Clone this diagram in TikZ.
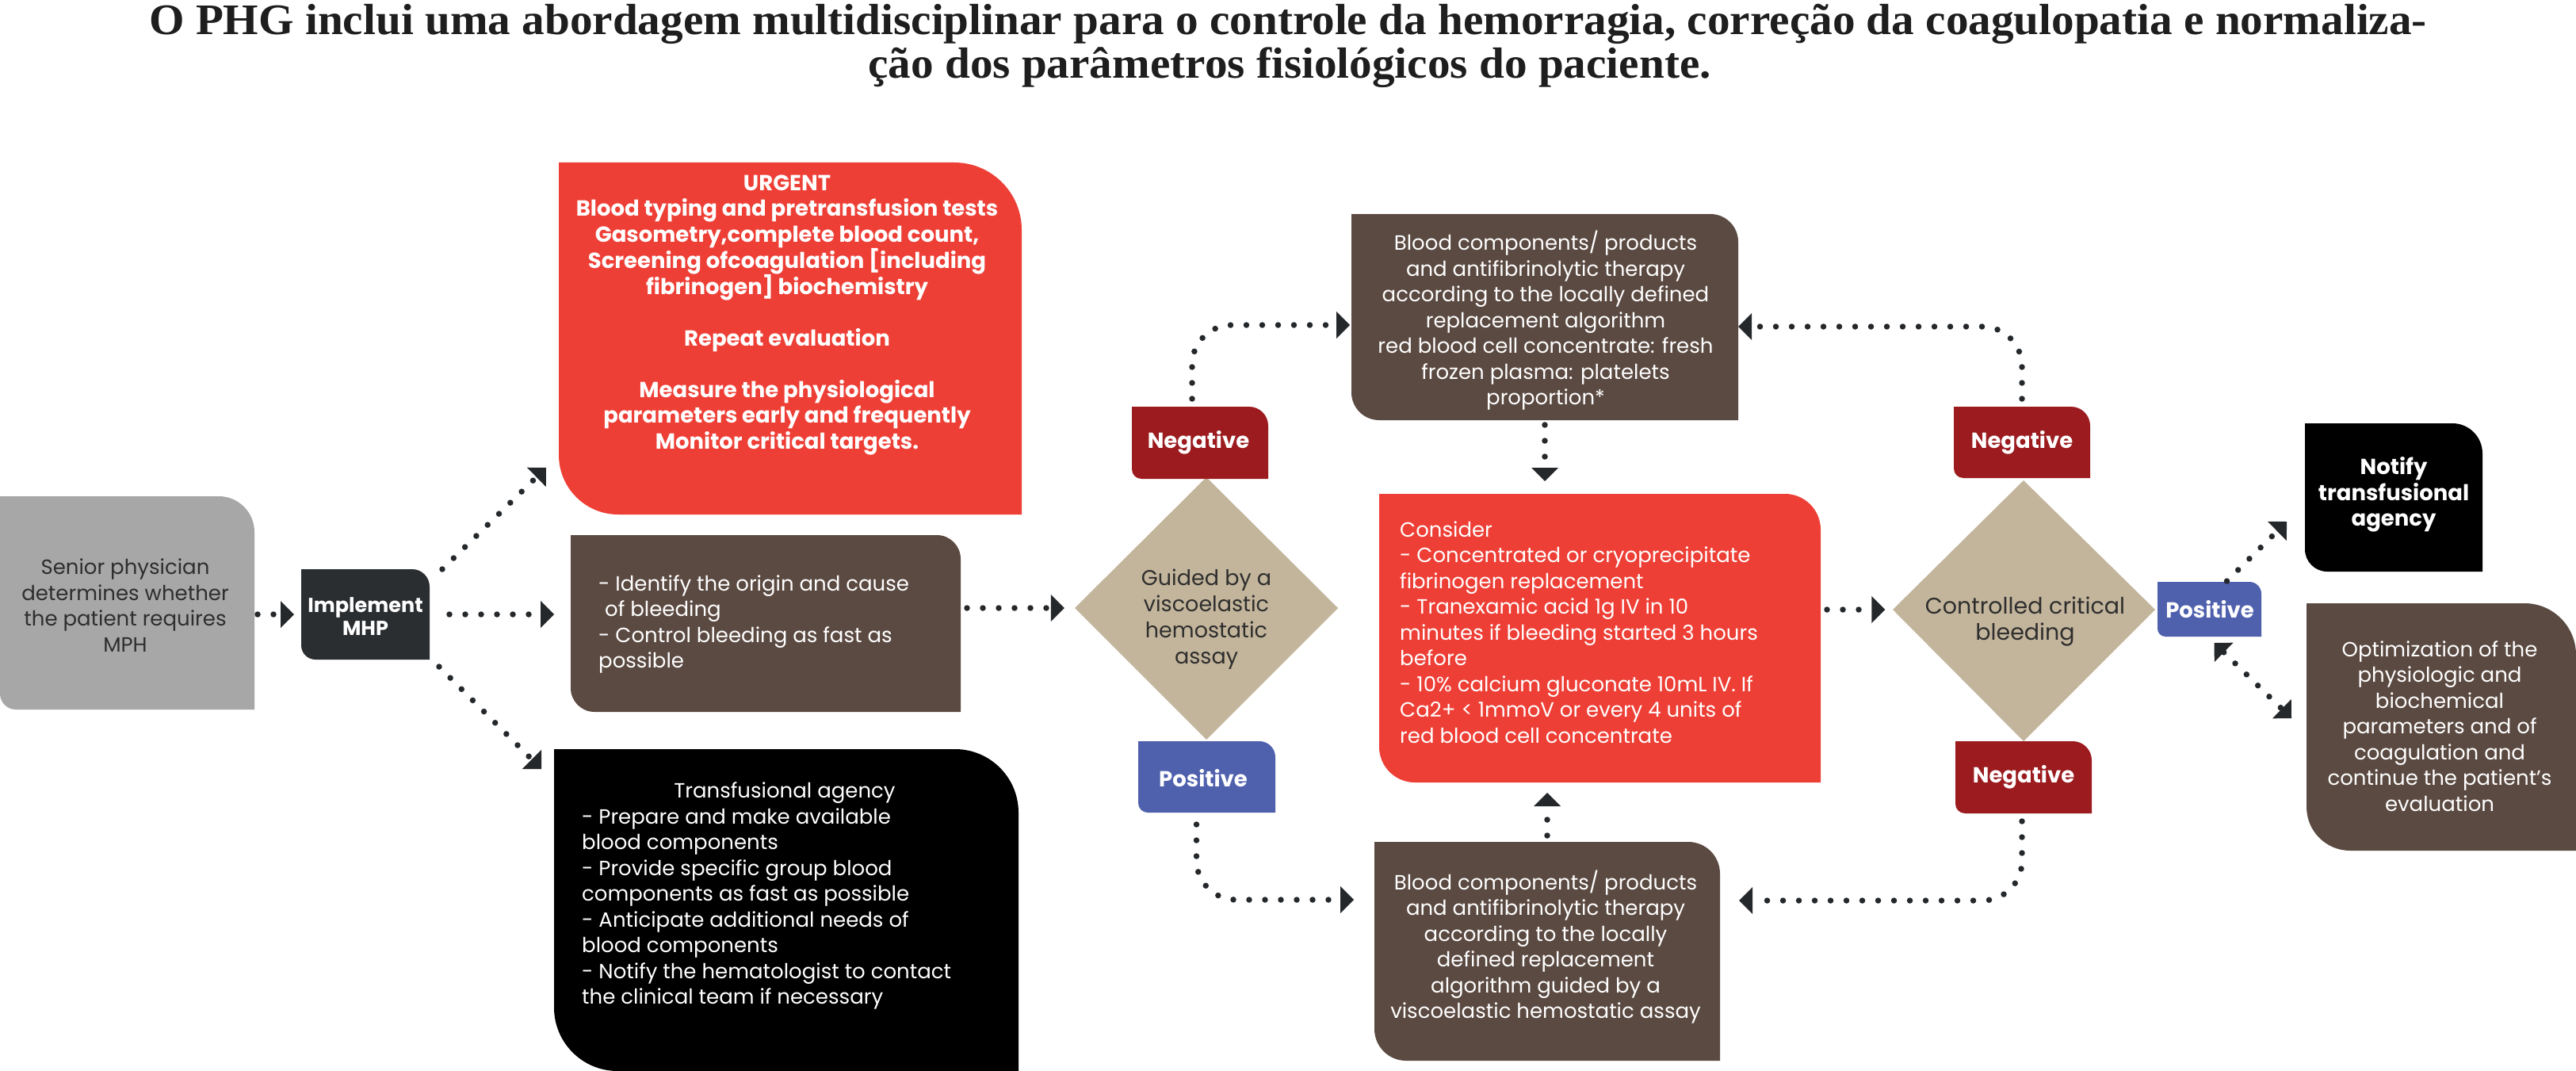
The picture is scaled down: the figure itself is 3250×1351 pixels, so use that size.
\documentclass[tikz,border=0pt]{standalone}
\usepackage{fontspec}
\setmainfont{Poppins}
\newfontfamily\titlefont{Liberation Serif}[FakeStretch=1.04]
\usetikzlibrary{arrows.meta,calc}
\definecolor{cgray}{HTML}{A8A7A8}
\definecolor{cgtext}{HTML}{2E2E2E}
\definecolor{cchar}{HTML}{2B2E31}
\definecolor{cred}{HTML}{EE3F36}
\definecolor{cbrown}{HTML}{5B4A42}
\definecolor{ctan}{HTML}{C3B59B}
\definecolor{cneg}{HTML}{9B1B1F}
\definecolor{cpos}{HTML}{4F60AD}
\definecolor{cdot}{HTML}{25282B}
\definecolor{ctitle}{HTML}{1E1E1E}
% #1 name, #2 colour, #3 x1, #4 y1, #5 x2, #6 y2, #7 radius top-right, #8 radius bottom-left
\newcommand\leafbox[8]{%
  \fill[#2] (#3,#4) -- ({#5-#7},#4) .. controls ({#5-0.448*#7},#4) and (#5,{#4+0.448*#7}) .. (#5,{#4+#7})
    -- (#5,#6) -- ({#3+#8},#6) .. controls ({#3+0.448*#8},#6) and (#3,{#6-0.448*#8}) .. (#3,{#6-#8}) -- cycle;
  \node[inner sep=0pt, outer sep=0pt, minimum width={#5-#3}, minimum height={#6-#4}] (#1) at ({(#3+#5)/2},{(#4+#6)/2}) {};
}
\tikzset{
  arw/.tip={Triangle[length=17pt,width=34pt,line width=0pt]},
  conn/.style={draw=cdot, line width=7.5pt, line cap=round, dash pattern=on 0pt off 20pt, -arw},
  lbl/.style={inner sep=0pt, text=white, font=\fontsize{26}{32.5}\selectfont},
  blbl/.style={inner sep=0pt, text=white, font=\bfseries\fontsize{27.5}{32.5}\selectfont},
  ttl/.style={inner sep=0pt, anchor=base, text=ctitle, font=\titlefont\bfseries\fontsize{55}{57}\selectfont},
}
\begin{document}
\begin{tikzpicture}[x=1pt,y=-1pt]
\fill[white] (0,0) rectangle (3250,1351);
\useasboundingbox (0,0) rectangle (3250,1351);

% title
\node[ttl] (t1) at (1625,44)
  {O PHG inclui uma abordagem multidisciplinar para o controle da hemorragia, correção da coagulopatia e normaliza-};
\node[ttl] (t2) at (1627,99)
  {ção dos parâmetros fisiológicos do paciente.};

% diamonds
\fill[ctan] (1356,767) -- (1522,602) -- (1688,767) -- (1522,933) -- cycle;
\node[inner sep=0pt, minimum width=332, minimum height=331] (d1) at (1522,767) {};
\fill[ctan] (2388,769) -- (2553,606) -- (2719,769) -- (2553,935) -- cycle;
\node[inner sep=0pt, minimum width=331, minimum height=329] (d2) at (2553,769) {};

% boxes
\leafbox{sen}{cgray}{0}{626}{321}{895}{45}{20}
\leafbox{imp}{cchar}{380}{718}{542}{832}{22}{18}
\leafbox{urg}{cred}{705}{205}{1289}{649}{85}{75}
\leafbox{idn}{cbrown}{720}{675}{1212}{898}{30}{30}
\leafbox{trf}{black}{699}{945}{1285}{1351}{80}{80}
\leafbox{neg1}{cneg}{1428}{513}{1600}{604}{24}{12}
\leafbox{pos1}{cpos}{1436}{935}{1609}{1025}{20}{12}
\leafbox{tb}{cbrown}{1705}{270}{2193}{530}{35}{35}
\leafbox{con}{cred}{1740}{623}{2297}{987}{45}{45}
\leafbox{bb}{cbrown}{1734}{1062}{2170}{1338}{40}{40}
\leafbox{neg2}{cneg}{2465}{513}{2637}{603}{24}{12}
\leafbox{neg3}{cneg}{2467}{935}{2639}{1026}{24}{12}
\leafbox{pos2}{cpos}{2722}{734}{2853}{803}{15}{10}
\leafbox{ntf}{black}{2908}{534}{3132}{721}{38}{28}
\leafbox{opt}{cbrown}{2910}{761}{3250}{1073}{65}{55}

% texts
\node[lbl, text=cgtext, align=center] (sen-t) at (158,763.5) {Senior physician\\determines whether\\the patient requires\\MPH};
\node[blbl, align=center, font=\bfseries\fontsize{25.5}{29}\selectfont] (imp-t) at (461,777.5) {Implement\\MHP};
\node[blbl, align=center] (urg-t) at (993,397.5) {URGENT\\Blood typing and pretransfusion tests\\Gasometry,complete blood count,\\Screening ofcoagulation [including\\fibrinogen] biochemistry\\[32.4pt]Repeat evaluation\\[32.4pt]Measure the physiological\\parameters early and frequently\\Monitor critical targets.};
\node[lbl, align=left, anchor=west] (idn-t) at (755,787.5) {- Identify the origin and cause\\\hspace*{8pt}of bleeding\\- Control bleeding as fast as\\possible};
\node[lbl] (trf-h) at (990,1000) {Transfusional agency};
\node[lbl, align=left, anchor=west] (trf-t) at (734,1146.5) {- Prepare and make available\\blood components\\- Provide specific group blood\\components as fast as possible\\- Anticipate additional needs of\\blood components\\- Notify the hematologist to contact\\the clinical team if necessary};
\node[lbl, text=cgtext, align=center, font=\fontsize{27}{33}\selectfont] (d1-t) at (1522,781.5) {Guided by a\\viscoelastic\\hemostatic\\assay};
\node[blbl] (neg1-t) at (1512,558) {Negative};
\node[blbl] (pos1-t) at (1518,982) {Positive};
\node[lbl, align=center] (tb-t) at (1950,404.5) {Blood components/ products\\and antifibrinolytic therapy\\according to the locally defined\\replacement algorithm\\red blood cell concentrate: fresh\\frozen plasma: platelets\\proportion*};
\node[lbl, align=left, anchor=west] (con-t) at (1766,797.5) {Consider\\- Concentrated or cryoprecipitate\\fibrinogen replacement\\- Tranexamic acid 1g IV in 10\\minutes if bleeding started 3 hours\\before\\- 10\% calcium gluconate 10mL IV. If\\Ca2+ < 1mmoV or every 4 units of\\red blood cell concentrate};
\node[lbl, align=center] (bb-t) at (1950,1194.5) {Blood components/ products\\and antifibrinolytic therapy\\according to the locally\\defined replacement\\algorithm guided by a\\viscoelastic hemostatic assay};
\node[lbl, text=cgtext, align=center, font=\fontsize{28.5}{33}\selectfont] (d2-t) at (2555,783.5) {Controlled critical\\bleeding};
\node[blbl] (neg2-t) at (2551,558) {Negative};
\node[blbl] (neg3-t) at (2553,980) {Negative};
\node[blbl] (pos2-t) at (2788,769) {Positive};
\node[blbl, align=center] (ntf-t) at (3020,624) {Notify\\transfusional\\agency};
\node[lbl, align=center] (opt-t) at (3078,916) {Optimization of the\\physiologic and\\biochemical\\parameters and of\\coagulation and\\continue the patient’s\\evaluation};

% connectors
\draw[conn, shorten <=4pt, shorten >=9pt] (sen.east |- imp.west) -- (imp.west);
\coordinate (urgtip) at (689,590);
\draw[conn] ($(imp.north east)+(16,0)$) -- (urgtip);
\draw[conn, shorten <=25pt, shorten >=21pt] (imp.east) -- (imp.east -| idn.west);
\coordinate (trftip) at (683,970);
\draw[conn] ($(imp.south east)+(12,9)$) -- (trftip);
\draw[conn, shorten <=8pt, shorten >=13pt] (idn.east |- d1.west) -- (d1.west);
\draw[conn, rounded corners=50pt] ($(neg1.north)+(-10,-10)$) |- ($(tb.west)+(-2,10)$);
\draw[conn, rounded corners=50pt] ($(pos1.south)+(-13,15)$) |- ($(bb.west)+(-26,-65)$);
\draw[conn, shorten <=6pt, shorten >=16pt] (tb.south) -- (tb.south |- con.north);
\draw[conn, shorten <=8pt, shorten >=13pt] (bb.north) -- (bb.north |- con.south);
\draw[conn, shorten <=8pt, shorten >=9pt] (con.east |- d2.west) -- (d2.west);
\draw[conn, rounded corners=50pt] ($(neg2.north)+(0,-10)$) |- ($(tb.east)+(0,12)$);
\draw[conn, rounded corners=50pt] ($(neg3.south)+(-2,10)$) |- ($(bb.east)+(24,-64)$);
\draw[conn] ($(pos2.north)+(22,-1)$) -- ($(ntf.south west)+(-23,-63)$);
\draw[conn, arw-arw] ($(pos2.south)+(6,8)$) -- ($(opt.west)+(-19,-11)$);
\end{tikzpicture}
\end{document}
